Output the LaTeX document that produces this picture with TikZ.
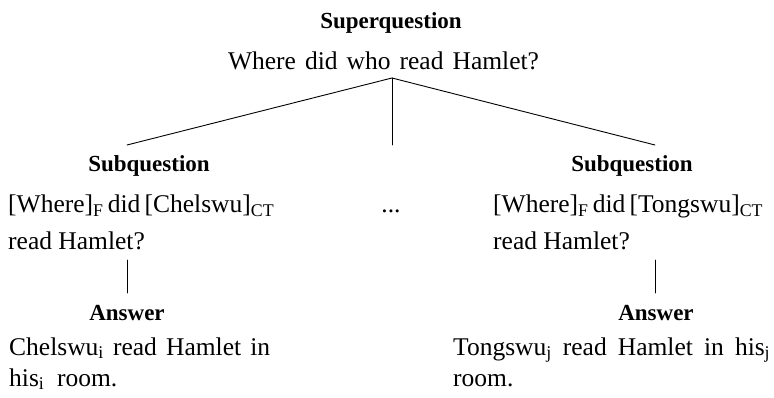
\documentclass[tikz,border=0pt]{standalone}
\usepackage{fontspec}
\setmainfont{Liberation Serif}
\begin{document}
\begin{tikzpicture}[x=1pt,y=-1pt,
  body/.style={inner sep=0pt, font=\fontsize{25.5}{30}\selectfont},
  head/.style={inner sep=0pt, font=\fontsize{23}{28}\selectfont\bfseries},
  branch/.style={line width=0.9pt, line cap=round}]
\useasboundingbox (0,0) rectangle (774,398);

% superquestion
\node[head, anchor=base] (sqhead) at (391,29) {Superquestion};
\node[body, anchor=base] (sqtext) at (383.5,70)
  {\makebox[311pt][s]{Where did who read Hamlet?}};

% left subquestion
\node[head, anchor=base] (lhead) at (149,172) {Subquestion};
\node[body, anchor=base west] (lq1) at (8,213)
  {\makebox[264pt][s]{[Where]\textsubscript{F} did [Chelswu]\textsubscript{CT}}};
\node[body, anchor=base west] (lq2) at (8,250) {read Hamlet?};

% elided middle subquestions
\node[body, anchor=base] (dots) at (391,213) {...};

% right subquestion
\node[head, anchor=base] (rhead) at (632,172) {Subquestion};
\node[body, anchor=base west] (rq1) at (493,213)
  {\makebox[269pt][s]{[Where]\textsubscript{F} did [Tongswu]\textsubscript{CT}}};
\node[body, anchor=base west] (rq2) at (493,250) {read Hamlet?};

% left answer
\node[head, anchor=base] (lans) at (127,320) {Answer};
\node[body, anchor=base west] (la1) at (9,355)
  {\makebox[261pt][s]{Chelswu\textsubscript{i} read Hamlet in}};
\node[body, anchor=base west] (la2) at (9,386) {his\textsubscript{i}~ room.};

% right answer
\node[head, anchor=base] (rans) at (656,320) {Answer};
\node[body, anchor=base west] (ra1) at (453,355)
  {\makebox[317pt][s]{Tongswu\textsubscript{j} read Hamlet in his\textsubscript{j}}};
\node[body, anchor=base west] (ra2) at (453,386) {room.};

% tree branches
\coordinate (apex) at (392,78);
\coordinate (lend) at (127,145);
\coordinate (mend) at (392,145);
\coordinate (rend) at (655,145);
\draw[branch] (lend) -- (apex) -- (rend);
\draw[branch] (apex) -- (mend);

\coordinate (ltop) at (127,260);
\coordinate (lbot) at (127,293);
\coordinate (rtop) at (655,260);
\coordinate (rbot) at (655,293);
\draw[branch] (ltop) -- (lbot);
\draw[branch] (rtop) -- (rbot);
\end{tikzpicture}
\end{document}
